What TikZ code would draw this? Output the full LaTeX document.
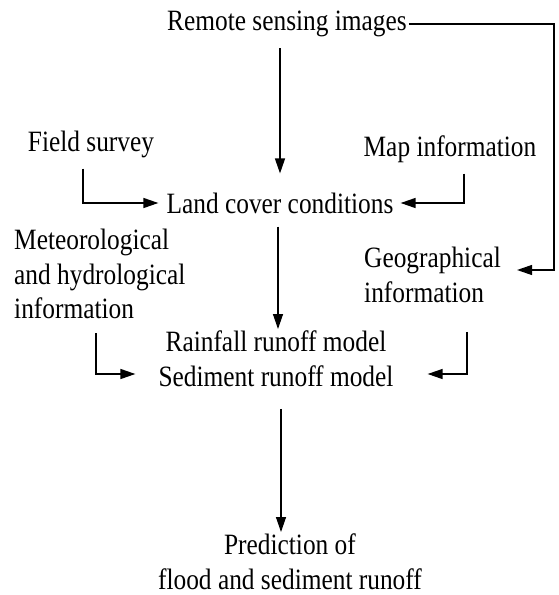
\documentclass[tikz,border=0pt]{standalone}
\usepackage{fontspec}
\setmainfont{Liberation Serif}[FakeStretch=0.86]
\usepackage{tikz}
\usetikzlibrary{arrows.meta, positioning, calc}

\begin{document}
\begin{tikzpicture}[
                x=1pt, y=-1pt,
                font=\fontsize{29.5}{34.5}\selectfont,
                label/.style={inner sep=0pt, align=center},
                flow/.style={line width=1.3pt, -{Triangle[length=15pt, width=10pt]}}
            ]
                \useasboundingbox (0,0) rectangle (559,595);

                % Nodes
                \node[label] (RS) at (287,24) {Remote sensing images};
                \node[label] (FS) at (91,144) {Field survey};
                \node[label] (MI) at (450,149) {Map information};
                \node[label] (LC) at (280,203) {Land cover conditions};
                \node[label, anchor=west, align=left] (MH) at (14,274) {Meteorological\\and hydrological\\information};
                \node[label, anchor=west, align=left] (GI) at (364,275) {Geographical\\information};
                \node[label] (RM) at (276,359) {Rainfall runoff model\\Sediment runoff model};
                \node[label] (PF) at (290,562) {Prediction of\\flood and sediment runoff};

                % Edges
                \draw[flow, shorten <=11pt, shorten >=19pt] (RS.south -| LC.north) -- (LC.north);
                \draw[flow, shorten <=11pt, shorten >=8pt] ([xshift=-8pt]FS.south) |- (LC.west);
                \draw[flow, shorten <=11pt, shorten >=7pt] ([xshift=14pt]MI.south) |- (LC.east);
                \draw[flow, shorten <=2pt, shorten >=16pt] (RS.east) -- ++(147,0) |- ([yshift=5pt]GI.east);
                \draw[flow, shorten <=13pt, shorten >=2pt] (LC.south -| 278,0) -- (RM.north -| 278,0);
                \draw[flow, shorten <=14pt, shorten >=23pt] ([xshift=82pt]MH.south west) |- ([yshift=-15pt]RM.west);
                \draw[flow, shorten <=29pt, shorten >=34pt] ([xshift=103pt]GI.south west) |- ([yshift=-15pt]RM.east);
                \draw[flow, shorten <=22pt, shorten >=2pt] (RM.south -| 281,0) -- (PF.north -| 281,0);
            \end{tikzpicture}
\end{document}
